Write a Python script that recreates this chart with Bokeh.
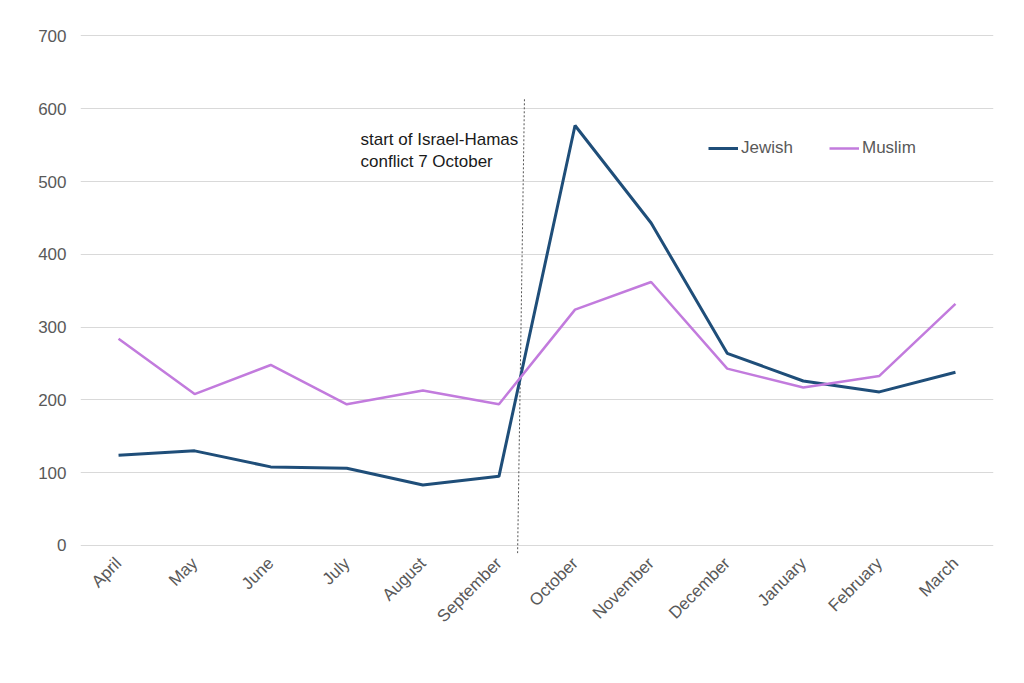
from math import pi
from bokeh.plotting import figure
from bokeh.models import Range1d, FixedTicker, Legend, LegendItem, Label
from bokeh.embed import file_html
from bokeh.resources import INLINE

months = ["April", "May", "June", "July", "August", "September",
          "October", "November", "December", "January", "February", "March"]
jewish = [124, 130, 108, 106, 83, 95, 577, 443, 264, 226, 211, 238]
muslim = [284, 208, 248, 194, 213, 194, 324, 362, 243, 217, 233, 332]
y_ticks = [0, 100, 200, 300, 400, 500, 600, 700]
annotation_lines = ["start of Israel-Hamas", "conflict 7 October"]

FONT = "Liberation Sans"
GREY = "#595959"

p = figure(x_range=months, y_range=Range1d(-11, 702), width=1024, height=683,
           output_backend="svg", toolbar_location=None,
           min_border_left=80, min_border_right=31, min_border_top=34,
           min_border_bottom=130)
p.outline_line_color = None
p.background_fill_color = "white"
p.border_fill_color = "white"

p.xgrid.grid_line_color = None
p.ygrid.grid_line_color = "#d9d9d9"
p.ygrid.grid_line_width = 1
p.yaxis.ticker = FixedTicker(ticks=y_ticks)

for ax in (p.xaxis, p.yaxis):
    ax.axis_line_color = None
    ax.major_tick_line_color = None
    ax.minor_tick_line_color = None
    ax.major_tick_out = 0
    ax.major_tick_in = 0
    ax.major_label_text_font = FONT
    ax.major_label_text_font_size = "17px"
    ax.major_label_text_color = GREY

p.yaxis.major_label_standoff = 14
p.xaxis.major_label_orientation = pi / 4
p.xaxis.major_label_standoff = 7

# dotted marker line for start of conflict
p.segment(x0=[("September", 0.335)], y0=[613], x1=[("September", 0.245)], y1=[-11],
          line_color="#555555", line_width=1, line_dash="2 2")

r_j = p.line(months, jewish, line_color="#1f4e79", line_width=3)
r_m = p.line(months, muslim, line_color="#c27bdd", line_width=2.5)

legend = Legend(items=[LegendItem(label="Jewish", renderers=[r_j]),
                       LegendItem(label="Muslim", renderers=[r_m])],
                orientation="horizontal", location=(628, 395),
                border_line_color=None, background_fill_alpha=0,
                margin=0, padding=0, spacing=36, glyph_width=30, label_standoff=3,
                label_text_font=FONT, label_text_font_size="17px",
                label_text_color=GREY)
p.add_layout(legend)

for i, t in enumerate(annotation_lines):
    p.add_layout(Label(x=280, y=414 - 22 * i, x_units="screen", y_units="screen",
                       text=t, text_font=FONT, text_font_size="17px",
                       text_color="#1a1a1a", text_baseline="alphabetic"))

open("out.html", "w").write(file_html(p, INLINE))
